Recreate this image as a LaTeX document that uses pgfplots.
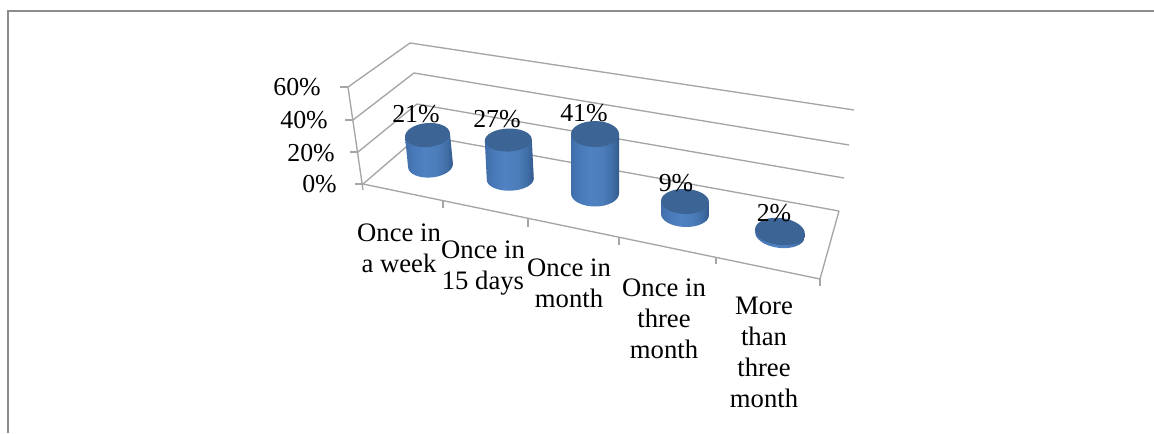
\documentclass[border=0pt]{standalone}
\usepackage{pgfplots}
\usepackage{pgfplotstable}
\usepackage{fontspec}
\setmainfont{Liberation Serif}
\pgfplotsset{compat=1.18}

% Horizontal colour ramp across a cylinder body (25bp..75bp spans the path)
\pgfdeclarehorizontalshading{cylbody}{100bp}{
  rgb(0bp)=(0.25,0.43,0.66);
  rgb(25bp)=(0.25,0.43,0.66);
  rgb(33bp)=(0.28,0.47,0.72);
  rgb(45bp)=(0.31,0.51,0.76);
  rgb(58bp)=(0.30,0.49,0.73);
  rgb(68bp)=(0.25,0.43,0.65);
  rgb(75bp)=(0.20,0.35,0.55);
  rgb(100bp)=(0.20,0.35,0.55)}
\definecolor{cylcap}{RGB}{60,100,148}
\definecolor{wallline}{RGB}{165,165,165}
\definecolor{framegray}{RGB}{140,140,140}

% Cylinder whose origin is the centre of the cap; one pixel is 0.75pt
\pgfdeclareplotmark{cylinder}{%
  \pgfmathsetmacro{\cylh}{-0.75*1.45*\cylvalue}%
  \pgfmathsetmacro{\cyldx}{0.75*\cylshift}%
  \pgfmathsetmacro{\cylax}{0.75*\cylrx*cos(\cylrot)}%
  \pgfmathsetmacro{\cylay}{0.75*\cylrx*sin(\cylrot)}%
  \pgfmathsetmacro{\cylbx}{-0.75*\cylry*sin(\cylrot)}%
  \pgfmathsetmacro{\cylby}{0.75*\cylry*cos(\cylrot)}%
  \pgfsetlinewidth{0pt}%
  \pgfpathmoveto{\pgfpoint{-\cylax pt}{-\cylay pt}}%
  \pgfpathlineto{\pgfpoint{\cyldx pt-\cylax pt}{\cylh pt-\cylay pt}}%
  \pgfpatharcaxes{180}{360}{\pgfpoint{\cylax pt}{\cylay pt}}{\pgfpoint{\cylbx pt}{\cylby pt}}%
  \pgfpathlineto{\pgfpoint{\cylax pt}{\cylay pt}}%
  \pgfpathclose
  \pgfshadepath{cylbody}{0}%
  \pgfusepath{discard}%
  \pgfsetfillcolor{cylcap}%
  \pgfpathellipse{\pgfpointorigin}{\pgfpoint{\cylax pt}{\cylay pt}}{\pgfpoint{\cylbx pt}{\cylby pt}}%
  \pgfusepath{fill}%
}

% Share per category, cap centre x, base centre y, lean of the body, ellipse radii and tilt, label position
\pgfplotstableread{
value cx    by    shift rx   ry   rot  lx  ly
21    427.5 165.5 3     22.5 12   5    416 114
27    508.3 179.2 2     23.5 11.5 2    497 119
41    595   193.5 0     24   13   0    584 113
9     685   214.5 0     24   12.5 -2   676 183
2     780   234.4 0     25   13.5 -7   774 213
}\sharetable

\tikzset{
  wall/.style={wallline,line width=1pt},
  lab/.style={font=\fontsize{19.4}{23.2}\selectfont,align=center,inner sep=0pt,text=black},
  cat/.style={font=\fontsize{20}{23.2}\selectfont,align=center,inner sep=0pt,text=black,anchor=north}
}

\begin{document}
\begin{tikzpicture}
\useasboundingbox (0,0) rectangle (865.5pt,324.75pt);
\begin{axis}[
  at={(0,0)},anchor=south west,
  scale only axis,width=865.5pt,height=324.75pt,
  xmin=0,xmax=1154,ymin=0,ymax=433,y dir=reverse,
  hide axis,clip=false,
]
% Outer frame
\addplot[framegray,line width=1.5pt,forget plot] coordinates {(7.5,433) (7.5,11) (1154,11)};

% Back wall gridlines at 60, 40, 20 and 0 percent
\addplot[wall] coordinates {(348,87) (410,43) (854,110)};
\addplot[wall] coordinates {(353,120) (414,73) (849,145)};
\addplot[wall] coordinates {(358,152) (417,104) (844,178)};
\addplot[wall] coordinates {(363,184) (420,135) (839,211)};

% Floor edges and vertical axis
\addplot[wall] coordinates {(363,184) (820,279) (839,211)};
\addplot[wall] coordinates {(348,87) (363,190)};

% Tick marks
\addplot[wall] coordinates {(340,87) (348,87)};
\addplot[wall] coordinates {(345,120) (353,120)};
\addplot[wall] coordinates {(350,152) (358,152)};
\addplot[wall] coordinates {(355,184) (363,184)};
\addplot[wall] coordinates {(443,201) (443,208)};
\addplot[wall] coordinates {(528,219) (528,227)};
\addplot[wall] coordinates {(619,238) (619,245)};
\addplot[wall] coordinates {(716,258) (716,264)};
\addplot[wall] coordinates {(820,279) (820,286)};

% Cylinders, set from the share in the first table column
\addplot[scatter,only marks,mark=cylinder,
  visualization depends on={\thisrow{value} \as \cylvalue},
  visualization depends on={\thisrow{shift} \as \cylshift},
  visualization depends on={\thisrow{rx} \as \cylrx},
  visualization depends on={\thisrow{ry} \as \cylry},
  visualization depends on={\thisrow{rot} \as \cylrot},
  point meta=\thisrow{value}]
  table[x=cx,y expr=\thisrow{by}-1.45*\thisrow{value}] {\sharetable};

% Value labels
\addplot[only marks,mark=none,point meta=explicit,
  nodes near coords={\pgfmathprintnumber[fixed,precision=0,assume math mode=true]{\pgfplotspointmeta}\%},
  nodes near coords style={lab,anchor=center}]
  table[x=lx,y=ly,meta=value] {\sharetable};

% Axis labels
\node[lab,anchor=east] at (axis cs:321,87) {60\%};
\node[lab,anchor=east] at (axis cs:328,120) {40\%};
\node[lab,anchor=east] at (axis cs:335,153) {20\%};
\node[lab,anchor=east] at (axis cs:337,184) {0\%};

\node[cat] at (axis cs:399,223.5) {Once in\\a week};
\node[cat] at (axis cs:483,240.5) {Once in\\15 days};
\node[cat] at (axis cs:569,258.5) {Once in\\month};
\node[cat] at (axis cs:664,278.5) {Once in\\three\\month};
\node[cat] at (axis cs:764,296.5) {More\\than\\three\\month};
\end{axis}
\end{tikzpicture}
\end{document}
